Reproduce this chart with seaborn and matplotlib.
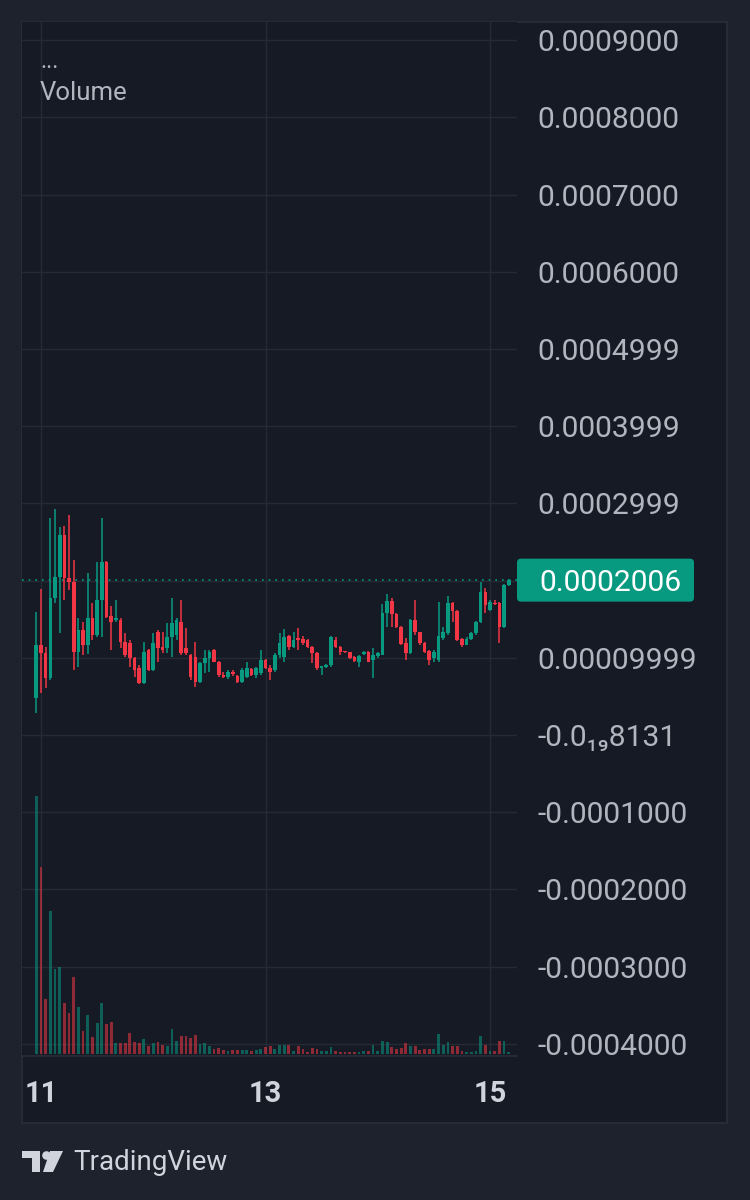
import numpy as np
import pandas as pd
import matplotlib
matplotlib.use("Agg")
import matplotlib.pyplot as plt
import seaborn as sns
from matplotlib.patches import FancyBboxPatch, Polygon, Circle, Rectangle
from matplotlib.transforms import IdentityTransform

# hourly candles; prices in units of 1e-4
hours = list(range(-1, 101))          # hours since the 11th, 00:00
opens = [0.48, 1.17, 1.06, 0.74, 1.77, 2.05, 2.59, 2.03, 1.98, 1.08,
         1.36, 1.17, 1.52, 1.30, 1.75, 2.24, 1.54, 1.49, 1.49, 1.20,
         1.19, 1.00, 0.87, 0.67, 1.10, 0.84, 1.33, 1.14, 1.13, 1.27,
         1.30, 1.46, 1.13, 1.04, 1.01, 0.69, 0.93, 1.00, 1.10, 0.95,
         0.78, 0.75, 0.81, 0.77, 0.69, 0.75, 0.85, 0.78, 0.80, 0.97,
         0.87, 0.84, 1.04, 1.01, 1.28, 1.14, 1.26, 1.24, 1.23, 1.14,
         1.06, 0.87, 0.88, 0.91, 1.23, 1.14, 1.08, 1.07, 1.01, 0.95,
         1.05, 1.08, 0.97, 1.02, 1.04, 1.58, 1.74, 1.57, 1.40, 1.19,
         1.06, 1.49, 1.33, 1.19, 1.09, 1.00, 0.97, 1.26, 1.32, 1.71,
         1.61, 1.24, 1.17, 1.24, 1.32, 1.46, 1.85, 1.62, 1.71, 1.71,
         1.40, 1.94]
highs = [1.59, 1.89, 1.14, 2.81, 2.93, 2.69, 2.71, 2.85, 2.27, 1.52,
         1.46, 2.10, 1.71, 2.24, 2.81, 2.25, 1.67, 1.75, 1.52, 1.32,
         1.23, 1.01, 0.91, 1.20, 1.12, 1.32, 1.36, 1.33, 1.45, 1.77,
         1.52, 1.75, 1.39, 1.05, 1.20, 0.94, 1.10, 1.10, 1.12, 0.96,
         0.82, 0.84, 0.84, 0.78, 0.87, 0.95, 0.87, 0.88, 1.10, 0.98,
         0.91, 1.06, 1.32, 1.37, 1.30, 1.33, 1.39, 1.28, 1.24, 1.15,
         1.07, 0.90, 0.92, 1.28, 1.27, 1.15, 1.09, 1.08, 1.02, 1.03,
         1.09, 1.09, 1.13, 1.07, 1.70, 1.83, 1.77, 1.58, 1.41, 1.26,
         1.50, 1.75, 1.34, 1.20, 1.10, 1.10, 1.72, 1.40, 1.80, 1.72,
         1.62, 1.26, 1.27, 1.33, 1.48, 1.98, 1.90, 1.75, 1.75, 1.72,
         1.95, 2.02]
lows = [0.28, 0.54, 0.61, 0.71, 1.71, 1.32, 1.75, 1.88, 0.84, 0.88,
        1.04, 1.05, 1.23, 1.27, 1.27, 1.52, 1.10, 1.46, 1.13, 1.01,
        0.88, 0.75, 0.66, 0.66, 0.83, 0.83, 0.95, 1.06, 1.06, 1.01,
        1.23, 1.04, 1.04, 0.71, 0.62, 0.67, 0.80, 0.82, 0.94, 0.75,
        0.74, 0.73, 0.77, 0.68, 0.68, 0.74, 0.76, 0.74, 0.78, 0.85,
        0.71, 0.82, 1.00, 0.95, 1.10, 1.13, 1.10, 1.17, 1.13, 0.93,
        0.84, 0.78, 0.87, 0.88, 1.13, 1.04, 1.06, 0.99, 0.95, 0.88,
        1.04, 0.94, 0.74, 1.00, 1.03, 1.40, 1.40, 1.39, 1.17, 0.97,
        1.05, 1.30, 1.17, 1.06, 0.91, 0.95, 0.95, 1.23, 1.30, 1.46,
        1.22, 1.14, 1.16, 1.23, 1.30, 1.45, 1.58, 1.61, 1.68, 1.19,
        1.39, 1.93]
closes = [1.17, 1.06, 0.74, 1.77, 2.05, 2.59, 2.03, 1.98, 1.08, 1.36,
          1.17, 1.52, 1.30, 1.75, 2.24, 1.53, 1.46, 1.52, 1.20, 1.04,
          1.00, 0.84, 0.67, 1.08, 0.84, 1.19, 1.13, 1.10, 1.27, 1.45,
          1.49, 1.06, 1.06, 0.75, 0.69, 0.93, 1.00, 1.08, 0.95, 0.78,
          0.75, 0.82, 0.79, 0.69, 0.84, 0.87, 0.78, 0.87, 0.97, 0.87,
          0.82, 1.04, 1.19, 1.27, 1.14, 1.23, 1.23, 1.19, 1.14, 1.06,
          0.87, 0.89, 0.91, 1.27, 1.14, 1.08, 1.07, 1.00, 0.96, 1.02,
          1.08, 0.95, 1.04, 1.06, 1.58, 1.74, 1.57, 1.40, 1.18, 1.06,
          1.49, 1.33, 1.19, 1.08, 0.97, 1.08, 1.28, 1.33, 1.71, 1.61,
          1.23, 1.17, 1.24, 1.32, 1.46, 1.85, 1.68, 1.72, 1.70, 1.40,
          1.94, 2.006]
volumes = [258, 187, 55, 143, 85, 87, 51, 41, 77, 47,
           23, 39, 17, 31, 51, 30, 32, 11, 11, 11,
           21, 12, 11, 15, 8, 11, 12, 9, 8, 25,
           13, 18, 18, 16, 19, 10, 11, 8, 5, 6,
           4, 3, 4, 4, 4, 4, 3, 4, 5.3, 7,
           7.7, 5, 9.3, 8.7, 9.3, 3.3, 7.7, 5.3, 2.3, 6,
           5, 3, 2.7, 6.7, 3, 2.3, 2, 2, 2, 2.3,
           2.7, 2.7, 9, 2.7, 12.7, 12.3, 7, 5.3, 6, 11.3,
           7.7, 7.7, 3.7, 5, 5, 5, 20, 9.3, 12.3, 7.7,
           7.7, 2.7, 2, 2, 3.3, 18.3, 9.3, 2.7, 2.7, 13.3,
           12.7, 2]

day_ticks = [0, 48, 96]
day_labels = ["11", "13", "15"]
price_ticks = [9, 8, 7, 6, 5, 4, 3, 2, 1, 0, -1, -2, -3, -4]
price_labels = ["0.0009000", "0.0008000", "0.0007000", "0.0006000",
                "0.0004999", "0.0003999", "0.0002999", "",
                "0.00009999", "-0.0\u2081\u20898131", "-0.0001000",
                "-0.0002000", "-0.0003000", "-0.0004000"]
last_label = "0.0002006"

BG = "#1e222d"
PANEL = "#161a25"
GRID = "#262a35"
BORDER = "#2a2e39"
UP = "#089981"
DOWN = "#f23645"
TXT = "#b2b5be"
TXT_HI = "#d1d4dc"

df = pd.DataFrame({"hour": hours, "open": opens, "high": highs,
                   "low": lows, "close": closes, "volume": volumes})
for c in ["open", "high", "low", "close"]:
    df[c] = df[c] * 1e-4
df["dir"] = np.where(df["close"] >= df["open"], "up", "down")

sns.set_style("dark", {"axes.facecolor": PANEL, "figure.facecolor": BG,
                       "grid.color": GRID, "axes.edgecolor": BORDER})
plt.rcParams["font.family"] = ["Roboto", "DejaVu Sans"]

W, H = 750, 1200
fig = plt.figure(figsize=(7.5, 12), dpi=100)
fig.patch.set_facecolor(BG)

def px(x, y):
    # image pixel (top-left origin) -> display coords
    return (x, H - y)

fig.add_artist(Rectangle((22 / W, 77 / H), 705 / W, 1101 / H, transform=fig.transFigure,
                         fc=PANEL, ec=BORDER, lw=1.2, zorder=-1))

ax = fig.add_axes([22 / W, 144 / H, 495 / W, 1034 / H])
ax.set_facecolor(PANEL)
ax.grid(True, color=GRID, lw=1)

colors = np.where(df["dir"] == "up", UP, DOWN)
ax.vlines(df["hour"], df["low"], df["high"], colors=colors, lw=1.1, zorder=3)
body = np.maximum((df["close"] - df["open"]).abs(), 0.015e-4)
ax.bar(df["hour"], body, bottom=np.minimum(df["open"], df["close"]),
       width=0.78, color=colors, lw=0, zorder=4)

last = df["close"].iloc[-1]
ax.axhline(last, color=UP, lw=1.2, ls=(0, (1, 3)), zorder=2)

# volume pane
axv = ax.twinx()
sns.barplot(data=df, x="hour", y="volume", hue="dir",
            palette={"up": UP, "down": DOWN}, native_scale=True, dodge=False,
            width=0.6, alpha=0.55, saturation=1, errorbar=None, legend=False,
            orient="x", linewidth=0, edgecolor="none", ax=axv)
axv.set_ylim(-2, 1032)
axv.set_yticks([])
axv.set_ylabel("")
axv.set_xlabel("")
for s in axv.spines.values():
    s.set_visible(False)

ax.yaxis.tick_right()
ax.set_xticks(day_ticks, day_labels)
ax.set_yticks(np.array(price_ticks) * 1e-4, price_labels)
ax.tick_params(axis="x", length=0, pad=17, labelsize=21, labelcolor=TXT_HI)
ax.tick_params(axis="y", length=0, pad=15, labelsize=21.6, labelcolor=TXT)
for lbl in ax.get_xticklabels():
    lbl.set_fontweight("bold")
ax.set_xlim(-4.06, 101.77)
ax.set_ylim(-4.158e-4, 9.236e-4)
ax.set_xlabel("")
ax.set_ylabel("")
for s in ["top", "left", "right"]:
    ax.spines[s].set_visible(False)
ax.spines["bottom"].set_color(BORDER)
ax.spines["bottom"].set_linewidth(1.2)

# last-price tag on the price scale
yd = ax.transData.transform((0, last))[1]
x0 = ax.bbox.x1
fig.add_artist(FancyBboxPatch((x0, yd - 21.5), 177, 43,
                              boxstyle="round,pad=0,rounding_size=4",
                              transform=IdentityTransform(), fc=UP, ec="none", zorder=5))
fig.text(x0 + 22, yd, last_label, transform=IdentityTransform(), color="white",
         fontsize=21.6, ha="left", va="center_baseline", zorder=6)

# legend texts
fig.text(40 / W, 1 - 62 / H, "...", color=TXT, fontsize=17, ha="left", va="center")
fig.text(40 / W, 1 - 93 / H, "Volume", color=TXT, fontsize=18.5, ha="left", va="center")

# TradingView watermark
logo_kw = dict(transform=IdentityTransform(), fc=TXT_HI, ec="none", zorder=5)
fig.add_artist(Polygon([px(22, 1151), px(40, 1151), px(40, 1172), px(32, 1172),
                        px(32, 1158), px(22, 1158)], closed=True, **logo_kw))
fig.add_artist(Circle(px(46.5, 1155.5), 4.3, **logo_kw))
fig.add_artist(Polygon([px(50, 1151), px(63, 1151), px(53, 1172), px(43, 1172)],
                       closed=True, **logo_kw))
fig.text(73 / W, 1 - 1163 / H, "TradingView", color=TXT_HI, fontsize=20,
         ha="left", va="center")

fig.savefig("out.png", dpi=100, facecolor=BG)
